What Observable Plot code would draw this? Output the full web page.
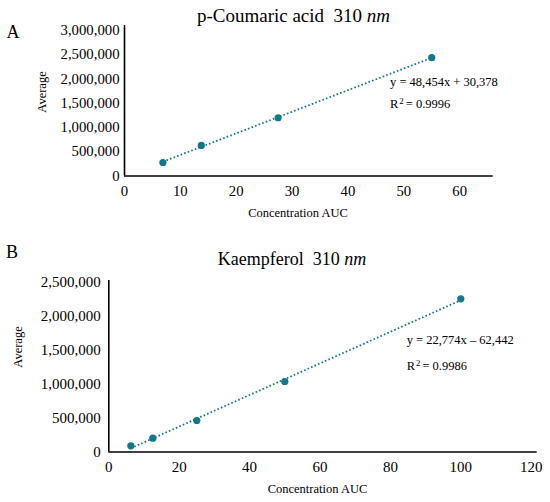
<!DOCTYPE html>
<html><head><meta charset="utf-8">
<script src="https://cdn.jsdelivr.net/npm/d3@7"></script>
<script src="https://cdn.jsdelivr.net/npm/@observablehq/plot@0.6"></script>
<style>
body{margin:0;background:#fff;}
#root{position:relative;width:550px;height:502px;font-family:"Liberation Serif","Times New Roman",serif;color:#000;overflow:hidden;}
#root svg{display:block;}
#root svg, #root svg text{font-family:"Liberation Serif","Times New Roman",serif !important;}
.t{position:absolute;white-space:pre;line-height:1;transform:translate(-50%,-50%);}
.l{position:absolute;white-space:pre;line-height:1;transform:translate(0,-50%);}
.r{position:absolute;white-space:pre;line-height:1;transform:translate(-50%,-50%) rotate(-90deg);}
sup{font-size:0.7em;vertical-align:0.45em;line-height:0;margin-left:1px;margin-right:2px;}
</style></head><body><div id="root"></div>
<script>
// Panel A: p-Coumaric acid 310 nm
const concA = [6.875, 13.75, 27.5, 55];
const avgA = [278000, 629000, 1200000, 2437000];
const xTicksA = [0, 10, 20, 30, 40, 50, 60];
const yTicksA = [0, 500000, 1000000, 1500000, 2000000, 2500000, 3000000];
// Panel B: Kaempferol 310 nm
const concB = [6.25, 12.5, 25, 50, 100];
const avgB = [91000, 204000, 465000, 1040000, 2260000];
const xTicksB = [0, 20, 40, 60, 80, 100, 120];
const yTicksB = [0, 500000, 1000000, 1500000, 2000000, 2500000];

const teal = "#12788a";
const fmt = d3.format(",");
const serif = '"Liberation Serif", serif';

function chart(o) {
  const data = o.conc.map((c, i) => ({c, a: o.avg[i]}));
  return Plot.plot({
    width: 550, height: o.height,
    marginLeft: o.ml, marginRight: o.mr, marginTop: o.mt, marginBottom: o.mb,
    x: {domain: o.xDomain},
    y: {domain: o.yDomain},
    style: {fontSize: o.fs + "px", color: "#000", background: "transparent", overflow: "visible"},
    marks: [
      Plot.axisY(o.yTicks, {tickSize: 0, tickPadding: o.yPad, tickFormat: fmt, label: null, fontSize: o.fs, fontFamily: serif}),
      Plot.axisX(o.xTicks, {tickSize: 0, tickPadding: o.xPad, label: null, fontSize: o.fs, fontFamily: serif}),
      Plot.linearRegressionY(data, {x: "c", y: "a", stroke: teal, strokeWidth: 1.8, strokeDasharray: "1.6,2.2", strokeLinecap: "butt", ci: 0}),
      Plot.ruleX([0], {stroke: "#000", strokeWidth: 1.6}),
      Plot.ruleY([0], {stroke: "#000", strokeWidth: 1.6}),
      Plot.dot(data, {x: "c", y: "a", r: 3.6, fill: teal})
    ]
  });
}

const root = document.getElementById("root");
root.append(chart({conc: concA, avg: avgA, xTicks: xTicksA, yTicks: yTicksA,
  xDomain: [0, 66], yDomain: [0, 3100000], height: 240,
  ml: 124, mr: 57.3, mt: 25, mb: 64.5, fs: 14.75, yPad: 5, xPad: 10}));
root.append(chart({conc: concB, avg: avgB, xTicks: xTicksB, yTicks: yTicksB,
  xDomain: [0, 121.7], yDomain: [0, 2530000], height: 262,
  ml: 108.3, mr: 13.3, mt: 40, mb: 50.5, fs: 15, yPad: 8, xPad: 9.5}));

function add(cls, x, y, size, html) {
  const d = document.createElement("div");
  d.className = cls;
  d.style.left = x + "px"; d.style.top = y + "px"; d.style.fontSize = size + "px";
  d.innerHTML = html;
  root.append(d);
}
// Panel A texts
add("t", 13, 32, 18, "A");
add("t", 293.5, 15, 19, "p-Coumaric acid  310 <i>nm</i>");
add("r", 42, 92, 12.5, "Average");
add("t", 298, 213, 12.5, "Concentration AUC");
add("l", 390, 82, 12.5, "y = 48,454x + 30,378");
add("l", 390, 104, 12.5, "R<sup>2</sup>= 0.9996");
// Panel B texts
add("t", 12, 252, 18, "B");
add("t", 292, 259, 18, "Kaempferol  310 <i>nm</i>");
add("r", 18, 347, 12.5, "Average");
add("t", 317.5, 489, 12.5, "Concentration AUC");
add("l", 406.7, 340, 12.5, "y = 22,774x \u2013 62,442");
add("l", 406.7, 366, 12.5, "R<sup>2</sup>= 0.9986");
</script></body></html>
